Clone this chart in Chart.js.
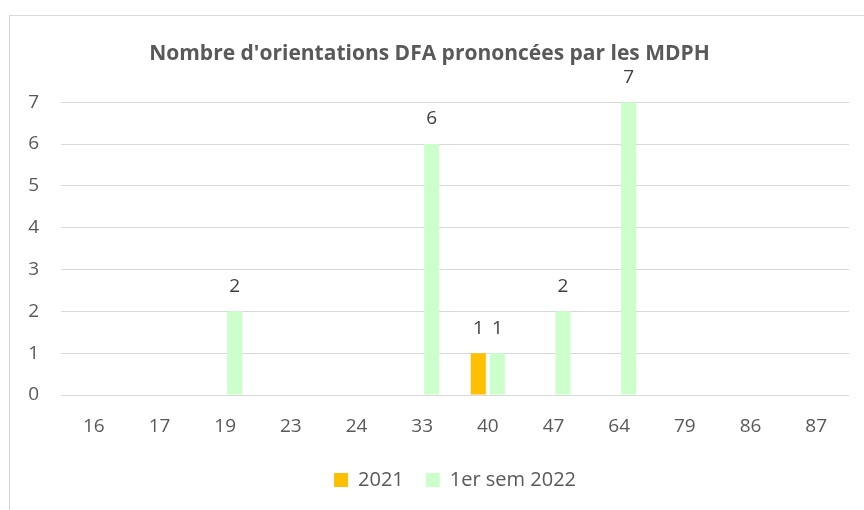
<!DOCTYPE html>
<html lang="fr">
<head>
  <meta charset="UTF-8">
  <title>Nombre d'orientations DFA prononcées par les MDPH</title>
  <script src="https://cdn.jsdelivr.net/npm/chart.js"></script>
  <style>
    body {
      margin: 0;
      background: #ffffff;
      font-family: 'Open Sans', sans-serif;
    }
    .frame {
      position: absolute;
      left: 9px;
      top: 15px;
      width: 860px;
      height: 500px;
      border-left: 1px solid #d9d9d9;
      border-top: 1px solid #d9d9d9;
    }
    canvas {
      display: block;
    }
  </style>
</head>
<body>
  <div class="frame">
    <canvas id="chart" width="854" height="494"></canvas>
  </div>

  <script>
    // Chart data
    const categories = ['16', '17', '19', '23', '24', '33', '40', '47', '64', '79', '86', '87'];
    const values2021 = [0, 0, 0, 0, 0, 0, 1, 0, 0, 0, 0, 0];
    const values2022 = [0, 0, 2, 0, 0, 6, 1, 2, 7, 0, 0, 0];
    const yTicks = [0, 1, 2, 3, 4, 5, 6, 7];

    const textColor = '#595959';

    // draw the value above each non-zero bar
    const barLabels = {
      id: 'barLabels',
      afterDatasetsDraw(chart) {
        const ctx = chart.ctx;
        ctx.save();
        ctx.font = '19px "Open Sans"';
        ctx.fillStyle = '#404040';
        ctx.textAlign = 'center';
        ctx.textBaseline = 'middle';
        chart.data.datasets.forEach((ds, i) => {
          chart.getDatasetMeta(i).data.forEach((bar, j) => {
            if (!ds.data[j]) return;
            ctx.fillText(String(ds.data[j]), bar.x, bar.y - 25);
          });
        });
        ctx.restore();
      }
    };

    new Chart(document.getElementById('chart'), {
      type: 'bar',
      data: {
        labels: categories,
        datasets: [
          {
            label: '2021',
            data: values2021,
            backgroundColor: '#FFC000',
            categoryPercentage: 0.58,
            barPercentage: 0.79
          },
          {
            label: '1er sem 2022',
            data: values2022,
            backgroundColor: '#CCFFCC',
            categoryPercentage: 0.58,
            barPercentage: 0.79
          }
        ]
      },
      options: {
        responsive: false,
        animation: false,
        layout: { padding: { left: 0, right: 15, top: 0, bottom: 10 } },
        plugins: {
          title: {
            display: true,
            text: "Nombre d'orientations DFA prononcées par les MDPH",
            color: textColor,
            font: { family: 'Open Sans', size: 21, weight: 'bold' },
            padding: { top: 25, bottom: 36 }
          },
          legend: {
            position: 'bottom',
            fullSize: false,
            labels: {
              color: textColor,
              font: { family: 'Open Sans', size: 20 },
              boxWidth: 14,
              boxHeight: 14,
              padding: 22
            }
          },
          tooltip: { enabled: false }
        },
        scales: {
          x: {
            grid: { display: false },
            border: { display: false },
            ticks: {
              color: textColor,
              font: { family: 'Open Sans', size: 19 },
              padding: 12
            },
            afterFit(scale) { scale.height = 53; }
          },
          y: {
            min: 0,
            max: 7,
            afterBuildTicks(scale) {
              scale.ticks = yTicks.map(v => ({ value: v }));
            },
            grid: { color: '#d9d9d9', lineWidth: 1, drawTicks: false },
            border: { display: false },
            ticks: {
              color: textColor,
              font: { family: 'Open Sans', size: 19 },
              padding: 22
            },
            afterFit(scale) { scale.width = 51; }
          }
        }
      },
      plugins: [barLabels]
    });
  </script>
</body>
</html>
